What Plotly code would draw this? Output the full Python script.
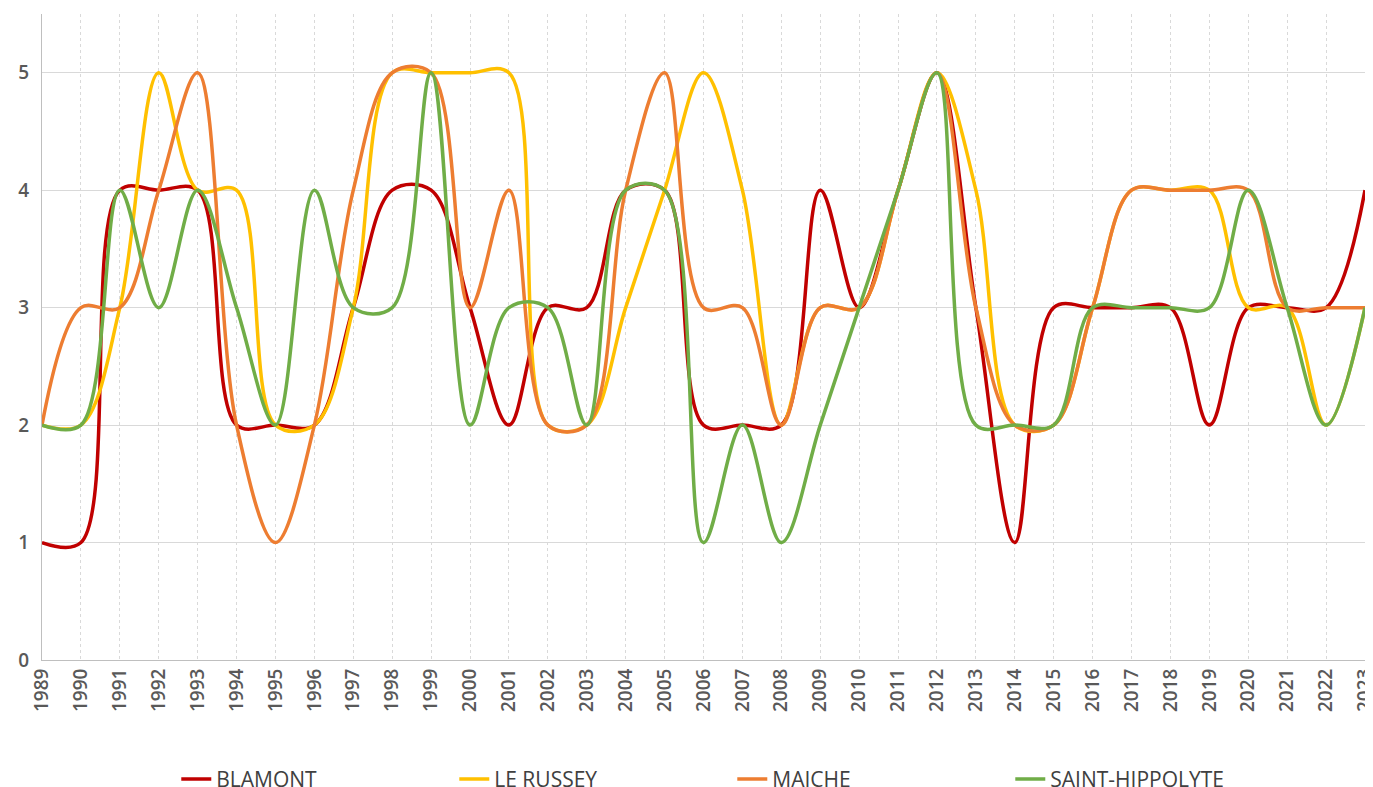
import plotly.graph_objects as go

years = list(range(1989, 2024))
year_labels = [str(y) for y in years]

blamont = [1, 1, 4, 4, 4, 2, 2, 2, 3, 4, 4, 3, 2, 3, 3, 4, 4, 2, 2, 2, 4, 3, 4, 5, 3, 1, 3, 3, 3, 3, 2, 3, 3, 3, 4]
le_russey = [2, 2, 3, 5, 4, 4, 2, 2, 3, 5, 5, 5, 5, 2, 2, 3, 4, 5, 4, 2, 3, 3, 4, 5, 4, 2, 2, 3, 4, 4, 4, 3, 3, 2, 3]
maiche = [2, 3, 3, 4, 5, 2, 1, 2, 4, 5, 5, 3, 4, 2, 2, 4, 5, 3, 3, 2, 3, 3, 4, 5, 3, 2, 2, 3, 4, 4, 4, 4, 3, 3, 3]
saint_hippolyte = [2, 2, 4, 3, 4, 3, 2, 4, 3, 3, 5, 2, 3, 3, 2, 4, 4, 1, 2, 1, 2, 3, 4, 5, 2, 2, 2, 3, 3, 3, 3, 4, 3, 2, 3]

series_names = ["BLAMONT", "LE RUSSEY", "MAICHE", "SAINT-HIPPOLYTE"]
series_values = [blamont, le_russey, maiche, saint_hippolyte]
series_colors = ["#C00000", "#FFC000", "#ED7D31", "#70AD47"]

fig = go.Figure()
for name, vals, col in zip(series_names, series_values, series_colors):
    fig.add_trace(go.Scatter(
        x=years, y=vals, name=name, mode="lines",
        line=dict(color=col, width=3.5, shape="spline", smoothing=1.0),
    ))

# page body has an 8px margin, so the figure is drawn 8px smaller
fig.update_layout(
    width=1365, height=779,
    paper_bgcolor="white", plot_bgcolor="white",
    margin=dict(l=34, r=8, t=6, b=127, autoexpand=False),
    font=dict(family="Open Sans, Liberation Sans, sans-serif", color="#595959"),
    showlegend=True,
    legend=dict(
        orientation="h", x=0.1015, xanchor="left", y=-0.153, yanchor="top",
        font=dict(size=21, color="#404040"),
        entrywidth=233, entrywidthmode="pixels",
        bgcolor="rgba(0,0,0,0)",
    ),
)

fig.update_xaxes(
    range=[1989, 2023],
    tickmode="array", tickvals=years, ticktext=year_labels,
    tickangle=-90, ticklabeloverflow="allow",
    tickfont=dict(size=19, color="#595959", family="Open Sans, sans-serif", weight=600),
    showgrid=True, gridcolor="#D9D9D9", griddash="dot", gridwidth=1,
    showline=True, linecolor="#BFBFBF", linewidth=1,
    zeroline=False, ticks="",
)
fig.update_yaxes(
    range=[0, 5.5],
    tickmode="array", tickvals=[0, 1, 2, 3, 4, 5],
    tickfont=dict(size=19, color="#595959", family="Open Sans, sans-serif", weight=600),
    showgrid=True, gridcolor="#D9D9D9", gridwidth=1,
    showline=True, linecolor="#BFBFBF", linewidth=1,
    zeroline=False, ticks="", ticklabelstandoff=8,
)

fig.write_html("out.html")
